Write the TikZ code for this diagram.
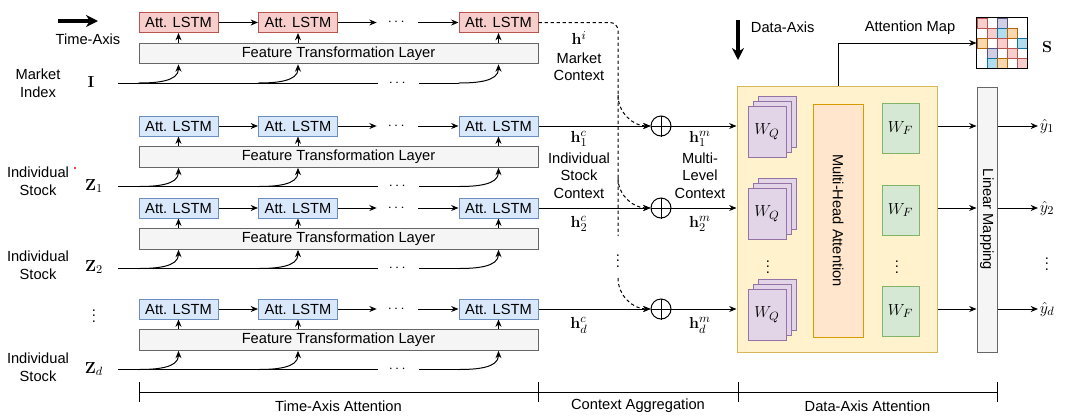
\documentclass[tikz,border=0pt]{standalone}
\usepackage[no-math]{fontspec}
\setmainfont{Liberation Sans}
\usepackage{amsmath}
\usetikzlibrary{arrows.meta}

\definecolor{redfill}{HTML}{F8CECC}
\definecolor{redline}{HTML}{B85450}
\definecolor{bluefill}{HTML}{DAE8FC}
\definecolor{blueline}{HTML}{6C8EBF}
\definecolor{grayfill}{HTML}{F5F5F5}
\definecolor{grayline}{HTML}{666666}
\definecolor{yellowfill}{HTML}{FFF2CC}
\definecolor{yellowline}{HTML}{D6B656}
\definecolor{purplefill}{HTML}{E1D5E7}
\definecolor{purpleline}{HTML}{9673A6}
\definecolor{orangefill}{HTML}{FFE6CC}
\definecolor{orangeline}{HTML}{D79B00}
\definecolor{greenfill}{HTML}{D5E8D4}
\definecolor{greenline}{HTML}{82B366}
\definecolor{cellblue}{HTML}{B1DDF0}
\definecolor{cellblueline}{HTML}{10739E}
\definecolor{cellorange}{HTML}{FAD7AC}
\definecolor{cellorangeline}{HTML}{B46504}
\definecolor{cellpurple}{HTML}{D0CEE2}
\definecolor{cellpurpleline}{HTML}{56517E}

\begin{document}
\begin{tikzpicture}[x=0.75pt,y=-0.75pt,line width=0.75pt,font=\fontsize{11}{13.5}\selectfont]
		\tikzstyle{mymarket}=[draw=redline,fill=redfill,minimum width=59.25pt,minimum height=15pt,inner sep=0pt]
		\tikzstyle{mystock}=[draw=blueline,fill=bluefill,minimum width=59.25pt,minimum height=15pt,inner sep=0pt]
		\tikzstyle{myftl}=[draw=grayline,fill=grayfill,minimum width=299.25pt,minimum height=15.5pt,inner sep=0pt]
		\tikzstyle{mydots}=[minimum width=30.5pt,inner sep=0pt]
		\tikzstyle{myarrow}=[-{Stealth[length=5.5pt,width=4.5pt]}]
		\tikzstyle{mybig}=[line width=2.6pt,-{Stealth[length=9pt,width=9pt]}]
		\tikzstyle{mydash}=[dash pattern=on 2.5pt off 2pt]
		\tikzstyle{mycirc}=[circle,draw,minimum size=15pt,inner sep=0pt]
		\tikzstyle{mymath}=[inner sep=1pt,font=\fontsize{12.5}{15}\selectfont]
		\tikzstyle{mywq}=[draw=purpleline,fill=purplefill,minimum width=28.5pt,minimum height=38pt,inner sep=0pt,font=\fontsize{13}{15}\selectfont]
		\tikzstyle{mywf}=[draw=greenline,fill=greenfill,minimum width=27.75pt,minimum height=37.5pt,inner sep=0pt,font=\fontsize{13}{15}\selectfont]
		\tikzstyle{myctx}=[align=center,inner sep=0pt,font=\fontsize{11}{13.1}\selectfont]
		\tikzstyle{mycpink}=[draw=redline,fill=redfill]
		\tikzstyle{mycblue}=[draw=cellblueline,fill=cellblue]
		\tikzstyle{mycorange}=[draw=cellorangeline,fill=cellorange]
		\tikzstyle{mycpurple}=[draw=cellpurpleline,fill=cellpurple]

		\useasboundingbox (0,0) rectangle (1065,419);

		% time axis
		\coordinate (ta0) at (58,21);
		\coordinate (ta1) at (98,21);
		\draw[mybig] (ta0) -- (ta1);
		\node (tlbl) at (88,39) {Time-Axis};

		% rows of the time-axis part
		\foreach \r/\y/\s in {m/22.5/mymarket, a/126/mystock, b/208/mystock, d/309/mystock} {
			\node[\s] (l\r1) at (178.5,\y) {Att. LSTM};
			\node[\s] (l\r2) at (298,\y) {Att. LSTM};
			\node[\s] (l\r3) at (498.5,\y) {Att. LSTM};
			\node[mydots] (dl\r) at (397.5,\y) {$\cdots$};
			\node[myftl] (f\r) at (338.5,\y+31) {Feature Transformation Layer};
			\coordinate (i\r) at (118,\y+60.5);
			\node[mydots] (di\r) at (398.5,\y+60.5) {$\cdots$};
			\draw[myarrow] (l\r1) -- (l\r2);
			\draw[myarrow] (l\r2) -- (dl\r);
			\draw[myarrow] (dl\r) -- (l\r3);
			\draw (i\r) -- (di\r);
			\draw (di\r) -- (l\r3.west |- i\r);
			\foreach \k in {1,2,3} {
				\draw[myarrow] (f\r.north -| l\r\k) -- (l\r\k);
				\draw[myarrow] (l\r\k.west |- i\r) to[out=0,in=-90] (f\r.south -| l\r\k);
			}
		}

		% inputs
		\node[align=center] (mkt) at (38,83) {Market\\Index};
		\node[mymath] (inI) at (91,82) {$\mathbf{I}$};
		\node[align=center] (stka) at (38,181.5) {Individual\\Stock};
		\node[mymath] (inZa) at (94,186) {$\mathbf{Z}_1$};
		\fill[red] (75,168) circle (1.2);
		\node[align=center] (stkb) at (38,265) {Individual\\Stock};
		\node[mymath] (inZb) at (94,267) {$\mathbf{Z}_2$};
		\node (vdl) at (94,312) {$\vdots$};
		\node[align=center] (stkd) at (38,367) {Individual\\Stock};
		\node[mymath] (inZd) at (94,369) {$\mathbf{Z}_d$};

		% context aggregation
		\coordinate (tk) at (618,22.5);
		\coordinate (tka) at (618,95);
		\coordinate (tkb) at (618,178);
		\coordinate (tke) at (618,236);
		\coordinate (tkd) at (618,278);
		\node (vdc) at (618,257) {$\vdots$};
		\draw[mydash,rounded corners=6pt] (lm3.east) -- (tk) -- (tke);

		\node[mymath] (hi) at (579,38) {$\mathbf{h}^i$};
		\node[myctx] (hitxt) at (579,67) {Market\\Context};
		\node[mymath] (hca) at (579,139) {$\mathbf{h}_1^c$};
		\node[myctx] (hcatxt) at (579,175.5) {Individual\\Stock\\Context};
		\node[mymath] (hma) at (700,139) {$\mathbf{h}_1^m$};
		\node[myctx] (hmatxt) at (700,175.5) {Multi-\\Level\\Context};
		\node[mymath] (hcb) at (579,224) {$\mathbf{h}_2^c$};
		\node[mymath] (hmb) at (700,224) {$\mathbf{h}_2^m$};
		\node[mymath] (hcd) at (579,325) {$\mathbf{h}_d^c$};
		\node[mymath] (hmd) at (700,325) {$\mathbf{h}_d^m$};

		% data-axis part
		\node[draw=yellowline,fill=yellowfill,minimum width=150pt,minimum height=199.5pt,inner sep=0pt] (ybox) at (837,219) {};
		\node[draw=orangeline,fill=orangefill,rotate=-90,minimum width=174.75pt,minimum height=37.5pt,inner sep=0pt] (mha) at (838,220.5) {Multi-Head Attention};
		\node[draw=grayline,fill=grayfill,rotate=-90,minimum width=198.75pt,minimum height=15pt,inner sep=0pt] (lin) at (987,219.5) {Linear Mapping};

		\coordinate (da0) at (738,20);
		\coordinate (da1) at (738,60);
		\draw[mybig] (da0) -- (da1);
		\node[anchor=west] (dlbl) at (746,27) {Data-Axis};

		\foreach \r/\y/\n in {a/126/1, b/208/2, d/309/d} {
			\node[mycirc] (c\r) at (661,\y) {};
			\draw (c\r.north) -- (c\r.south);
			\draw (c\r.west) -- (c\r.east);
			\draw[myarrow] (l\r3) -- (c\r);
			\draw[myarrow] (c\r) -- (ybox.west |- c\r);
			\foreach \o in {10,5} { \node[mywq] at (767+\o,\y+6-\o) {}; }
			\node[mywq] (wq\r) at (767,\y+6) {$W_Q$};
			\node[mywf] (wf\r) at (900.5,\y+2) {$W_F$};
			\draw[myarrow] (ybox.east |- c\r) -- (lin.south |- c\r);
			\node[anchor=west,inner sep=1pt,font=\fontsize{13}{15}\selectfont] (out\r) at (1038,\y) {$\hat{y}_{\n}$};
			\draw[myarrow] (lin.north |- c\r) -- (out\r.west |- c\r);
		}
		\draw[mydash,myarrow] (tka) to[out=-90,in=180] (ca);
		\draw[mydash,myarrow] (tkb) to[out=-90,in=180] (cb);
		\draw[mydash,myarrow] (tkd) to[out=-90,in=180] (cd);

		\node (vdq) at (768,263) {$\vdots$};
		\node (vdf) at (897,263) {$\vdots$};
		\node (vdy) at (1047,260) {$\vdots$};

		% attention map
		\node[minimum size=37.5pt,inner sep=0pt] (smap) at (1002,43) {};
		\foreach \i/\j/\s in {1/1/mycpink,1/3/mycpurple,2/2/mycpink,2/3/mycblue,2/4/mycorange,3/1/mycorange,3/3/mycpink,3/5/mycblue,4/2/mycpurple,4/4/mycpink,5/2/mycblue,5/3/mycorange,5/5/mycpink} { \draw[\s] ({977+10*(\j-1)},{18+10*(\i-1)}) rectangle +(10,10);}
		\draw (smap.north west) rectangle (smap.south east);
		\node[font=\fontsize{13}{15}\selectfont] (slbl) at (1047,47) {$\mathbf{S}$};
		\node (amlbl) at (910,28) {Attention Map};
		\draw[myarrow] (mha.center |- ybox.north) |- (smap.west);

		% bottom brackets
		\coordinate (br0) at (139,392);
		\coordinate (br1) at (997,392);
		\draw (br0) -- (br1);
		\foreach \x in {139,538,738,997} { \draw (\x,382) -- (\x,402);}
		\node (bta) at (338.5,406) {Time-Axis Attention};
		\node (bca) at (638,406) {Context Aggregation};
		\node (bda) at (867.5,406) {Data-Axis Attention};
	\end{tikzpicture}
\end{document}
